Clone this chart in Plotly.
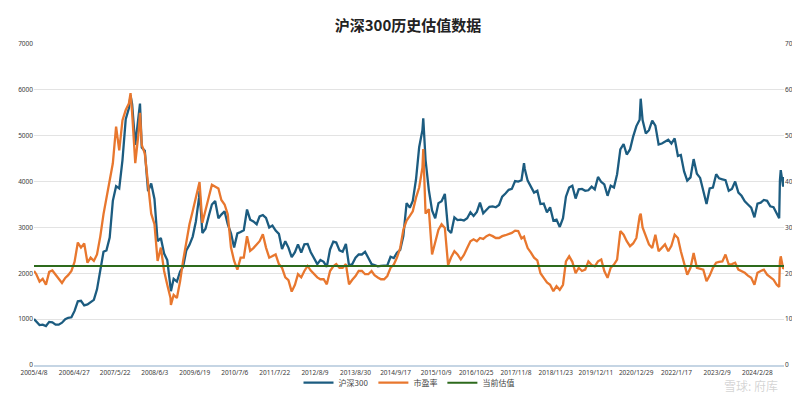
import plotly.graph_objects as go

TITLE = "沪深300历史估值数据"
SERIES_NAMES = ["沪深300", "市盈率", "当前估值"]

DATES = [
    "2005-04-08", "2005-04-30", "2005-05-31", "2005-06-30", "2005-07-31", "2005-08-31", "2005-09-30", "2005-10-31", "2005-11-30", "2005-12-31",
    "2006-01-31", "2006-02-28", "2006-03-31", "2006-04-30", "2006-05-31", "2006-06-30", "2006-07-31", "2006-08-31", "2006-09-30", "2006-10-31", "2006-11-30", "2006-12-31",
    "2007-01-31", "2007-02-28", "2007-03-31", "2007-04-30", "2007-05-31", "2007-06-30", "2007-07-31", "2007-08-31", "2007-09-30", "2007-10-16", "2007-10-31", "2007-11-30", "2007-12-31",
    "2008-01-14", "2008-01-31", "2008-02-29", "2008-03-31", "2008-04-30", "2008-05-31", "2008-06-30", "2008-07-31", "2008-08-31", "2008-09-30", "2008-10-31", "2008-11-04", "2008-11-30", "2008-12-31",
    "2009-01-31", "2009-02-28", "2009-03-31", "2009-04-30", "2009-05-31", "2009-06-30", "2009-07-31", "2009-08-04", "2009-08-31", "2009-09-30", "2009-10-31", "2009-11-30", "2009-12-31",
    "2010-01-31", "2010-02-28", "2010-03-31", "2010-04-30", "2010-05-31", "2010-06-30", "2010-07-31", "2010-08-31", "2010-09-30", "2010-10-31", "2010-11-30", "2010-12-31",
    "2011-01-31", "2011-02-28", "2011-03-31", "2011-04-30", "2011-05-31", "2011-06-30", "2011-07-31", "2011-08-31", "2011-09-30", "2011-10-31", "2011-11-30", "2011-12-31",
    "2012-01-31", "2012-02-29", "2012-03-31", "2012-04-30", "2012-05-31", "2012-06-30", "2012-07-31", "2012-08-31", "2012-09-30", "2012-10-31", "2012-11-30", "2012-12-31",
    "2013-01-31", "2013-02-28", "2013-03-31", "2013-04-30", "2013-05-31", "2013-06-30", "2013-07-31", "2013-08-31", "2013-09-30", "2013-10-31", "2013-11-30", "2013-12-31",
    "2014-01-31", "2014-02-28", "2014-03-31", "2014-04-30", "2014-05-31", "2014-06-30", "2014-07-31", "2014-08-31", "2014-09-30", "2014-10-31", "2014-11-30", "2014-12-31",
    "2015-01-31", "2015-02-28", "2015-03-31", "2015-04-30", "2015-05-31", "2015-06-08", "2015-06-30", "2015-07-31", "2015-08-31", "2015-09-30", "2015-10-31", "2015-11-30", "2015-12-31",
    "2016-01-31", "2016-02-29", "2016-03-31", "2016-04-30", "2016-05-31", "2016-06-30", "2016-07-31", "2016-08-31", "2016-09-30", "2016-10-31", "2016-11-30", "2016-12-31",
    "2017-01-31", "2017-02-28", "2017-03-31", "2017-04-30", "2017-05-31", "2017-06-30", "2017-07-31", "2017-08-31", "2017-09-30", "2017-10-31", "2017-11-30", "2017-12-31",
    "2018-01-24", "2018-01-31", "2018-02-28", "2018-03-31", "2018-04-30", "2018-05-31", "2018-06-30", "2018-07-31", "2018-08-31", "2018-09-30", "2018-10-31", "2018-11-30", "2018-12-31",
    "2019-01-31", "2019-02-28", "2019-03-31", "2019-04-30", "2019-05-31", "2019-06-30", "2019-07-31", "2019-08-31", "2019-09-30", "2019-10-31", "2019-11-30", "2019-12-31",
    "2020-01-31", "2020-02-29", "2020-03-31", "2020-04-30", "2020-05-31", "2020-06-30", "2020-07-31", "2020-08-31", "2020-09-30", "2020-10-31", "2020-11-30", "2020-12-31",
    "2021-01-31", "2021-02-10", "2021-02-28", "2021-03-31", "2021-04-30", "2021-05-31", "2021-06-30", "2021-07-31", "2021-08-31", "2021-09-30", "2021-10-31", "2021-11-30", "2021-12-31",
    "2022-01-31", "2022-02-28", "2022-03-31", "2022-04-30", "2022-05-31", "2022-06-30", "2022-07-31", "2022-08-31", "2022-09-30", "2022-10-31", "2022-11-30", "2022-12-31",
    "2023-01-31", "2023-02-28", "2023-03-31", "2023-04-30", "2023-05-31", "2023-06-30", "2023-07-31", "2023-08-31", "2023-09-30", "2023-10-31", "2023-11-30", "2023-12-31",
    "2024-01-31", "2024-02-29", "2024-03-31", "2024-04-30", "2024-05-31", "2024-06-30", "2024-07-31", "2024-08-31", "2024-09-23", "2024-09-30", "2024-10-08", "2024-10-31", "2024-11-08",
]

HS300 = [
    1003, 950, 870, 880, 850, 940, 930, 880, 880, 923,
    1000, 1030, 1040, 1180, 1390, 1400, 1300, 1320, 1370, 1420, 1650, 2040,
    2470, 2500, 2780, 3580, 3900, 3850, 4470, 5360, 5600, 5877, 5690, 4800, 5340,
    5700, 4740, 4670, 3790, 3960, 3620, 2700, 2770, 2430, 2290, 1660, 1610, 1880, 1820,
    2040, 2140, 2500, 2620, 2800, 3130, 3660, 3800, 2880, 2970, 3250, 3500, 3575,
    3200, 3280, 3350, 3070, 2870, 2560, 2870, 2900, 2940, 3390, 3170, 3130,
    3070, 3240, 3270, 3210, 3000, 3040, 2930, 2860, 2530, 2700, 2560, 2350,
    2460, 2630, 2450, 2630, 2640, 2460, 2330, 2200, 2290, 2250, 2140, 2520,
    2690, 2670, 2500, 2470, 2640, 2170, 2200, 2340, 2410, 2410, 2470, 2330,
    2200, 2180, 2150, 2160, 2160, 2170, 2360, 2330, 2450, 2510, 2810, 3530,
    3430, 3580, 4050, 4750, 5120, 5380, 4470, 3820, 3370, 3200, 3530, 3570, 3730,
    2950, 2880, 3220, 3160, 3170, 3150, 3200, 3330, 3250, 3340, 3540, 3310,
    3390, 3450, 3460, 3440, 3490, 3670, 3740, 3820, 3840, 4010, 4000, 4030,
    4400, 4280, 4020, 3900, 3760, 3800, 3510, 3520, 3330, 3440, 3150, 3170, 3010,
    3200, 3670, 3870, 3910, 3630, 3830, 3840, 3800, 3810, 3890, 3830, 4100,
    3990, 3940, 3690, 3910, 3870, 4160, 4700, 4820, 4590, 4700, 4980, 5210,
    5350, 5807, 5340, 5050, 5120, 5330, 5220, 4810, 4830, 4870, 4910, 4830, 4940,
    4560, 4580, 4220, 4020, 4090, 4490, 4170, 4080, 3800, 3510, 3850, 3870,
    4160, 4070, 4050, 4030, 3800, 3840, 4000, 3760, 3690, 3570, 3500, 3430,
    3220, 3520, 3540, 3600, 3580, 3460, 3440, 3320, 3200, 4020, 4250, 3890, 4100,
]

PE = [
    20.5, 19.8, 18.2, 18.8, 17.5, 20.3, 20.6, 19.7, 18.6, 17.9,
    19.0, 19.6, 20.5, 22.5, 26.7, 25.6, 26.5, 22.3, 23.4, 22.7, 24.1, 28.0,
    32.9, 36.6, 40.5, 44.0, 52.0, 46.8, 53.4, 55.6, 57.0, 59.3, 55.0, 44.0, 50.5,
    55.0, 48.0, 46.1, 39.5, 33.0, 30.7, 22.7, 25.6, 20.5, 17.5, 14.6, 13.1, 15.3, 14.6,
    18.3, 22.7, 27.1, 30.7, 33.6, 36.5, 39.6, 39.9, 31.0, 33.5, 36.6, 39.3, 38.8,
    38.5, 36.0, 35.0, 32.9, 25.6, 22.7, 20.8, 23.4, 23.4, 28.1, 24.9, 25.5,
    26.3, 27.0, 28.5, 25.6, 23.4, 23.8, 24.1, 22.0, 21.2, 19.1, 18.5, 16.0,
    17.5, 19.8, 19.1, 20.5, 21.6, 20.6, 19.8, 19.1, 18.7, 18.7, 17.6, 20.5,
    21.5, 22.0, 21.2, 21.2, 22.0, 17.6, 18.6, 19.4, 20.5, 20.5, 19.8, 19.8,
    20.5, 19.6, 19.1, 18.7, 18.7, 19.4, 21.2, 21.9, 23.4, 25.5, 29.5, 31.5,
    32.5, 33.5, 36.5, 38.7, 43.0, 47.1, 33.0, 34.0, 24.1, 26.5, 29.5, 30.7, 29.9,
    21.8, 23.5, 24.8, 24.1, 23.0, 24.0, 25.5, 27.0, 27.4, 27.0, 27.7, 27.5,
    28.1, 28.4, 28.1, 27.7, 27.7, 28.1, 28.3, 28.5, 28.8, 29.3, 29.2, 27.6,
    28.0, 27.4, 25.5, 24.5, 23.4, 22.8, 20.0, 19.0, 18.0, 17.5, 16.1, 17.2, 16.4,
    17.5, 22.6, 23.7, 22.5, 20.0, 21.2, 20.5, 20.8, 22.6, 21.8, 21.5, 22.6,
    23.0, 20.5, 19.0, 21.2, 21.9, 23.0, 29.2, 28.4, 27.0, 25.9, 26.5, 27.7,
    32.5, 33.0, 30.0, 28.1, 26.3, 25.5, 28.4, 24.8, 25.5, 26.3, 24.8, 26.0, 28.4,
    27.7, 24.8, 21.9, 19.7, 21.2, 24.4, 21.2, 21.0, 20.8, 18.3, 19.5, 21.2,
    22.3, 22.5, 22.6, 24.1, 21.9, 22.0, 22.3, 20.8, 20.5, 20.1, 19.5, 19.0,
    17.5, 20.1, 20.5, 20.8, 19.7, 19.2, 18.6, 17.5, 17.0, 22.6, 23.7, 21.0, 21.2,
]

CURRENT_PE = 21.6

TICK_DATES = [
    "2005-04-08", "2006-04-27", "2007-05-22", "2008-06-03", "2009-06-19", "2010-07-06",
    "2011-07-22", "2012-08-09", "2013-08-30", "2014-09-17", "2015-10-09", "2016-10-25",
    "2017-11-08", "2018-11-23", "2019-12-11", "2020-12-29", "2022-01-17", "2023-02-09", "2024-02-28",
]
TICK_LABELS = [
    "2005/4/8", "2006/4/27", "2007/5/22", "2008/6/3", "2009/6/19", "2010/7/6",
    "2011/7/22", "2012/8/9", "2013/8/30", "2014/9/17", "2015/10/9", "2016/10/25",
    "2017/11/8", "2018/11/23", "2019/12/11", "2020/12/29", "2022/1/17", "2023/2/9", "2024/2/28",
]

BLUE = "#1c5c80"
ORANGE = "#e8772e"
GREEN = "#2d6a1c"
FONT = "Noto Sans CJK SC, Noto Sans, sans-serif"
TICK_FONT = dict(family="Noto Sans, sans-serif", size=6.5, color="#3a3a3a")

fig = go.Figure()
fig.add_trace(go.Scatter(x=DATES, y=HS300, name=SERIES_NAMES[0], mode="lines",
                         line=dict(color=BLUE, width=2.3), yaxis="y"))
fig.add_trace(go.Scatter(x=DATES, y=PE, name=SERIES_NAMES[1], mode="lines",
                         line=dict(color=ORANGE, width=2.3), yaxis="y2"))
fig.add_trace(go.Scatter(x=[DATES[0], DATES[-1]], y=[CURRENT_PE, CURRENT_PE], name=SERIES_NAMES[2],
                         mode="lines", line=dict(color=GREEN, width=2), yaxis="y2"))

fig.update_layout(
    width=800, height=394,
    margin=dict(l=26, r=24, t=36, b=37, autoexpand=False),
    paper_bgcolor="white", plot_bgcolor="white",
    font=dict(family=FONT, size=7, color="#333333"),
    title=dict(text="<b>" + TITLE + "</b>", x=0.5, xanchor="center", y=0.955, yanchor="middle",
               font=dict(family=FONT, size=15, color="#222222")),
    showlegend=True,
    legend=dict(orientation="h", x=0.5, xanchor="center", y=-0.055, yanchor="middle",
                font=dict(size=8, color="#444444"), itemwidth=30, tracegroupgap=0,
                bgcolor="rgba(0,0,0,0)"),
    xaxis=dict(type="date", range=[DATES[0], DATES[-1]], tickvals=TICK_DATES, ticktext=TICK_LABELS,
               showgrid=False, showline=True, linecolor="#c5d5e4", linewidth=2, automargin=False,
               ticks="", tickfont=TICK_FONT, zeroline=False),
    yaxis=dict(range=[0, 7000], dtick=1000, showgrid=True, gridcolor="#e3e3e3", gridwidth=1,
               automargin=False, zeroline=False, ticks="", tickfont=TICK_FONT),
    yaxis2=dict(range=[0, 70], dtick=10, overlaying="y", side="right", showgrid=False,
                automargin=False, zeroline=False, ticks="", tickfont=TICK_FONT),
    annotations=[dict(text="雪球: 府库", xref="paper", yref="paper", x=0.995, y=-0.063,
                      xanchor="right", yanchor="middle", showarrow=False,
                      font=dict(family=FONT, size=12, color="rgba(160,160,160,0.45)"))],
)

fig.write_html("out.html")
